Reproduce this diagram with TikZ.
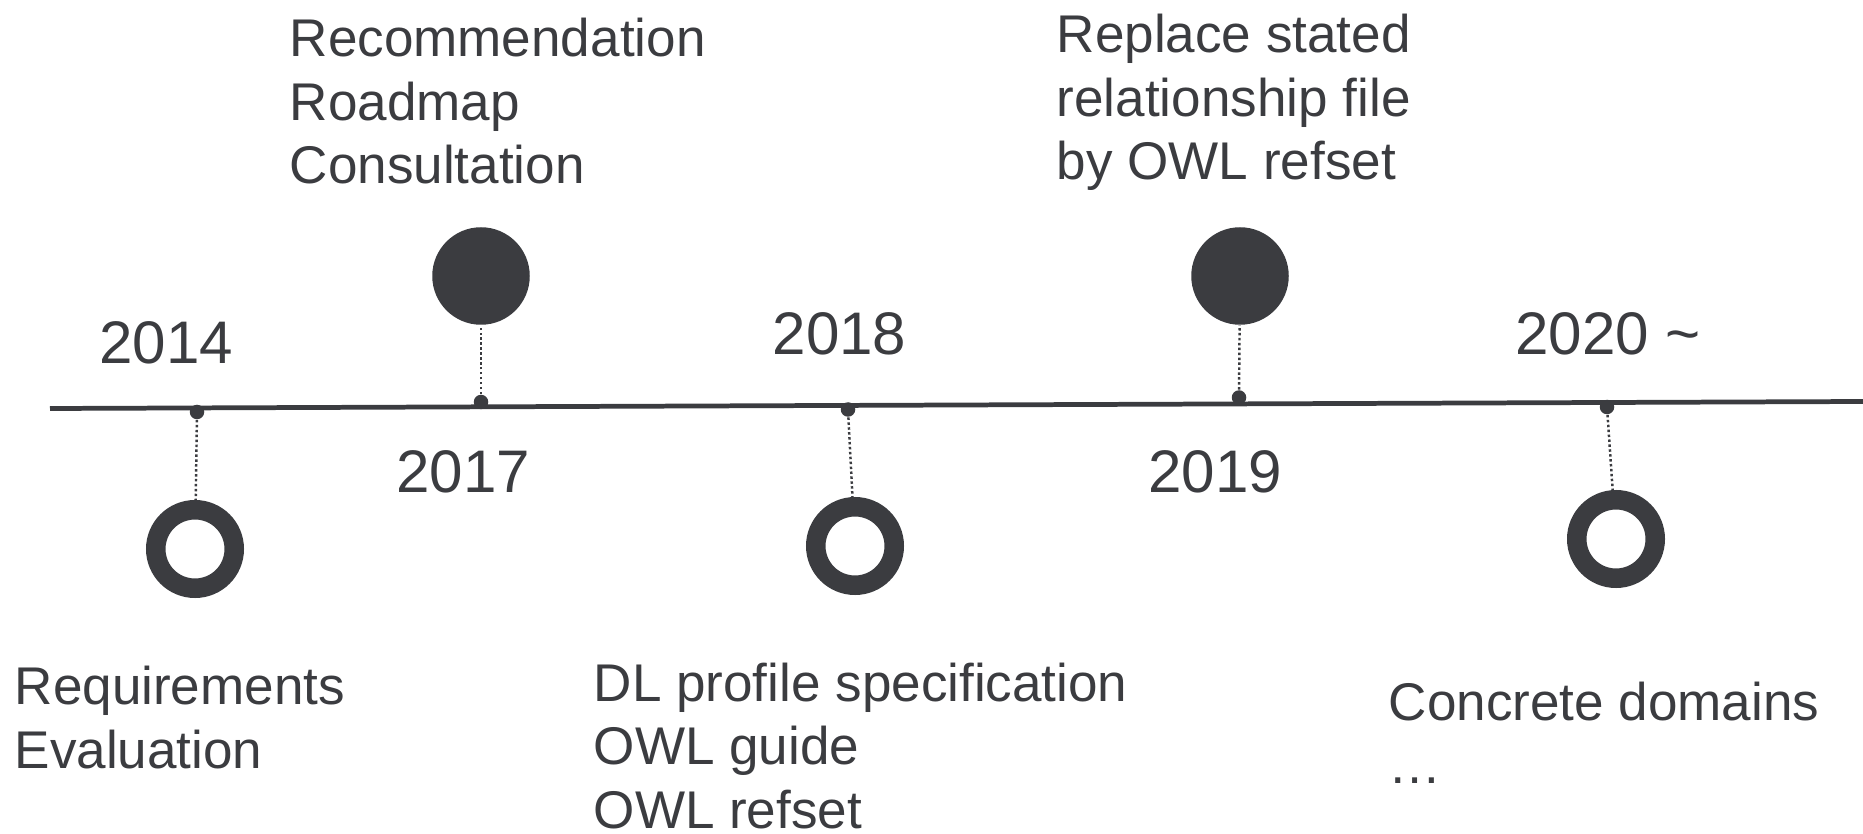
\documentclass[tikz,border=0pt]{standalone}
\usepackage{fontspec}
\setmainfont{Liberation Sans}

\definecolor{tlgray}{HTML}{3B3C40}

\tikzset{
    year/.style={anchor=base west, inner sep=0pt, text=tlgray, font=\fontsize{17.1}{20}\selectfont},
    item/.style={anchor=base west, inner sep=0pt, text=tlgray, font=\fontsize{15.1}{18}\selectfont},
    tick/.style={circle, fill=tlgray, inner sep=0pt, minimum size=1.45mm},
    full/.style={circle, fill=tlgray, inner sep=0pt, minimum size=9.75mm},
    ring/.style={circle, draw=tlgray, line width=1.95mm, inner sep=0pt, minimum size=7.85mm},
    link/.style={draw=tlgray, line width=0.7pt, dash pattern=on 0.7pt off 0.7pt},
}

\begin{document}
\begin{tikzpicture}[x=0.1mm, y=-0.1mm]
    \useasboundingbox (0,0) rectangle (1863,834);

    % Timeline
    \coordinate (tl-start) at (50,408.5);
    \coordinate (tl-end) at (1863,401.5);
    \draw[tlgray, line width=1.35pt] (tl-start) -- (tl-end);

    % Ticks, markers and years
    \foreach \yr/\tx/\ty/\kind/\cx/\cy/\lx/\ly/\lab in {
        2014/197/412/ring/195/549/98.6/363.5/2014,
        2017/481/402/full/481/276/395.6/493/2017,
        2018/848/409.5/ring/855/546/772/355/2018,
        2019/1239/397.5/full/1240/276/1147.6/493/2019,
        2020/1607/407/ring/1616/539/1514.7/355/{2020 \textasciitilde}} {
        \node[tick] (tick-\yr) at (\tx,\ty) {};
        \node[\kind] (mark-\yr) at (\cx,\cy) {};
        \draw[link] (tick-\yr) -- (mark-\yr);
        \node[year] (year-\yr) at (\lx,\ly) {\lab};
    }

    % Labels above the line
    \foreach \txt [count=\i] in {Recommendation, Roadmap, Consultation}
        \node[item] (rec-\i) at (289,{57+63.5*(\i-1)}) {\txt};
    \foreach \txt [count=\i] in {Replace stated, relationship file, by OWL refset}
        \node[item] (owl-\i) at (1056,{53+63.5*(\i-1)}) {\txt};

    % Labels below the line
    \foreach \txt [count=\i] in {Requirements, Evaluation}
        \node[item] (req-\i) at (14,{704.5+63.5*(\i-1)}) {\txt};
    \foreach \txt [count=\i] in {DL profile specification, OWL guide, OWL refset}
        \node[item] (dl-\i) at (593,{701+63.5*(\i-1)}) {\txt};
    \foreach \txt [count=\i] in {Concrete domains, …}
        \node[item] (cd-\i) at (1388,{720+63.5*(\i-1)}) {\txt};

\end{tikzpicture}
\end{document}
